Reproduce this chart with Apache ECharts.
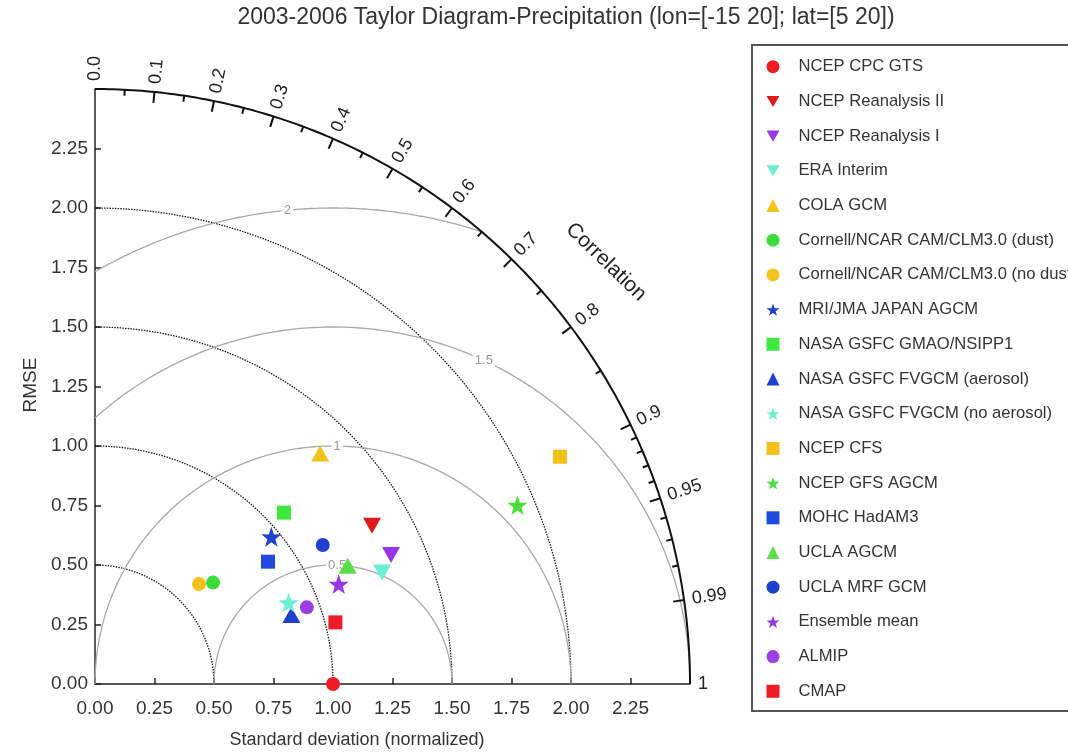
<!DOCTYPE html>
<html lang="en">
<head>
    <meta charset="UTF-8">
    <title>Taylor Diagram - Precipitation</title>
    <script src="https://cdn.jsdelivr.net/npm/echarts@6/dist/echarts.min.js"></script>
    <style>
        html, body { margin: 0; padding: 0; background: #fff; }
        #chart { width: 1068px; height: 753px; }
    </style>
</head>
<body>
    <div id="chart"></div>

    <script>
        // 模型名称 / 颜色 / 形状
        const modelNames = [
            'NCEP CPC GTS', 'NCEP Reanalysis II', 'NCEP Reanalysis I', 'ERA Interim',
            'COLA GCM', 'Cornell/NCAR CAM/CLM3.0 (dust)', 'Cornell/NCAR CAM/CLM3.0 (no dust)',
            'MRI/JMA JAPAN AGCM', 'NASA GSFC GMAO/NSIPP1', 'NASA GSFC FVGCM (aerosol)',
            'NASA GSFC FVGCM (no aerosol)', 'NCEP CFS', 'NCEP GFS AGCM', 'MOHC HadAM3',
            'UCLA AGCM', 'UCLA MRF GCM', 'Ensemble mean', 'ALMIP', 'CMAP'
        ];
        // normalized std * correlation (x) and std * sin(acos(correlation)) (y)
        const sdX = [1.00, 1.164, 1.244, 1.206, 0.946, 0.496, 0.437, 0.741, 0.794, 0.825,
                     0.813, 1.954, 1.775, 0.727, 1.062, 0.957, 1.024, 0.890, 1.010];
        const sdY = [0.00, 0.665, 0.542, 0.468, 0.969, 0.426, 0.420, 0.619, 0.720, 0.290,
                     0.342, 0.955, 0.752, 0.514, 0.497, 0.584, 0.420, 0.322, 0.259];
        const modelShapes = ['circle', 'down', 'down', 'down', 'up', 'circle', 'circle', 'star',
                             'square', 'up', 'star', 'square', 'star', 'square', 'up', 'circle',
                             'star', 'circle', 'square'];
        const modelColors = ['#ee1c24', '#dd1a1e', '#9a35e8', '#6cefd0', '#f2c21a', '#3ddc3d',
                             '#f5c21c', '#1f3fcf', '#3fe83f', '#1f3fcf', '#6cefd0', '#f2c21a',
                             '#4ade3a', '#1f4ae0', '#5ade48', '#1f3fcf', '#9a35e8', '#9a3fe0',
                             '#ee1c24'];

        // 网格圆弧 / 相关系数刻度
        const sdLevels = [0.5, 1.0, 1.5, 2.0];
        const rmsLevels = [0.5, 1.0, 1.5, 2.0];
        const rmsLabels = ['0.5', '1', '1.5', '2'];
        const rmsLabelAngles = [88, 89, 65, 95.5];
        const corrMajor = [0.1, 0.2, 0.3, 0.4, 0.5, 0.6, 0.7, 0.8, 0.9, 0.95, 0.99];
        const corrMinor = [0.05, 0.15, 0.25, 0.35, 0.45, 0.55, 0.65, 0.75, 0.85,
                           0.91, 0.92, 0.93, 0.94, 0.96, 0.97, 0.98];
        const corrLabelValues = [0, 0.1, 0.2, 0.3, 0.4, 0.5, 0.6, 0.7, 0.8, 0.9, 0.95, 0.99, 1];
        const corrLabelTexts = ['0.0', '0.1', '0.2', '0.3', '0.4', '0.5', '0.6', '0.7', '0.8',
                                '0.9', '0.95', '0.99', '1'];
        const sdMax = 2.5;

        const FONT = "'Liberation Sans', Arial, Helvetica, sans-serif";
        const STAR = 'path://M50,0 L61.8,35.1 L97.6,34.5 L69,56.7 L79.4,90.5 L50,70 L20.6,90.5 L31,56.7 L2.4,34.5 L38.2,35.1 Z';
        const DOWN = 'path://M0,0 L20,0 L10,17 Z';

        function arcPoints(cx, r, a0, a1, n) {
            const pts = [];
            for (let i = 0; i <= n; i++) {
                const a = a0 + (a1 - a0) * i / n;
                pts.push([cx + r * Math.cos(a), r * Math.sin(a)]);
            }
            return pts;
        }

        function shapeStyle(shape) {
            if (shape === 'circle') return { symbol: 'circle', symbolSize: 14 };
            if (shape === 'square') return { symbol: 'rect', symbolSize: 14 };
            if (shape === 'up') return { symbol: 'triangle', symbolSize: [18, 16] };
            if (shape === 'down') return { symbol: DOWN, symbolSize: [18, 16] };
            return { symbol: STAR, symbolSize: 20 };
        }

        const series = [];

        // 标准差圆弧 (点线)
        sdLevels.forEach(r => {
            series.push({
                type: 'line', silent: true, clip: false, symbol: 'none', z: 2,
                data: arcPoints(0, r, 0, Math.PI / 2, 120),
                lineStyle: { color: '#1a1a1a', width: 1.3, type: [1.5, 1.2] }
            });
        });

        // RMSE 圆弧 (以参考点为中心)
        rmsLevels.forEach(r => {
            const cMin = (sdMax * sdMax - 1 - r * r) / (2 * r);
            const a0 = cMin >= 1 ? 0 : Math.acos(Math.max(-1, cMin));
            const a1 = r <= 1 ? Math.PI : Math.acos(-1 / r);
            series.push({
                type: 'line', silent: true, clip: false, symbol: 'none', z: 2,
                data: arcPoints(1, r, a0, a1, 160),
                lineStyle: { color: '#a8a8a8', width: 1.3 }
            });
        });

        // 外圆弧
        series.push({
            type: 'line', silent: true, clip: false, symbol: 'none', z: 3,
            data: arcPoints(0, sdMax, 0, Math.PI / 2, 200),
            lineStyle: { color: '#111', width: 2 }
        });

        // RMSE 标签
        series.push({
            type: 'custom', silent: true, clip: false, z: 4,
            data: rmsLevels.map((r, i) => {
                const a = rmsLabelAngles[i] * Math.PI / 180;
                return [1 + r * Math.cos(a), r * Math.sin(a)];
            }),
            encode: { x: 0, y: 1 },
            renderItem: (params, api) => {
                const p = api.coord([api.value(0), api.value(1)]);
                return {
                    type: 'text', x: p[0], y: p[1],
                    style: {
                        text: rmsLabels[params.dataIndex], fill: '#999', fontSize: 13,
                        fontFamily: FONT, align: 'center', verticalAlign: 'middle',
                        backgroundColor: '#fff', padding: [0, 2]
                    }
                };
            }
        });

        // 相关系数刻度
        const tickData = corrMajor.map(c => [sdMax * c, sdMax * Math.sqrt(1 - c * c), c, 1])
            .concat(corrMinor.map(c => [sdMax * c, sdMax * Math.sqrt(1 - c * c), c, 0]));
        series.push({
            type: 'custom', silent: true, clip: false, z: 4,
            data: tickData,
            encode: { x: 0, y: 1 },
            renderItem: (params, api) => {
                const th = Math.acos(api.value(2));
                const len = api.value(3) ? 11 : 6;
                const p = api.coord([api.value(0), api.value(1)]);
                return {
                    type: 'line',
                    shape: { x1: p[0], y1: p[1], x2: p[0] - len * Math.cos(th), y2: p[1] + len * Math.sin(th) },
                    style: { stroke: '#111', lineWidth: 2 }
                };
            }
        });

        // 相关系数标签
        series.push({
            type: 'custom', silent: true, clip: false, z: 4,
            data: corrLabelValues.map(c => [sdMax * c, sdMax * Math.sqrt(1 - c * c), c]),
            encode: { x: 0, y: 1 },
            renderItem: (params, api) => {
                const th = Math.acos(api.value(2));
                const p = api.coord([api.value(0), api.value(1)]);
                return {
                    type: 'text',
                    x: p[0] + 8 * Math.cos(th), y: p[1] - 8 * Math.sin(th),
                    rotation: th,
                    style: {
                        text: corrLabelTexts[params.dataIndex], fill: '#222', fontSize: 18,
                        fontFamily: FONT, align: 'left', verticalAlign: 'middle'
                    }
                };
            }
        });

        // 模型散点
        modelNames.forEach((name, i) => {
            const s = shapeStyle(modelShapes[i]);
            series.push({
                name: name, type: 'scatter', clip: false, z: 10,
                symbol: s.symbol, symbolSize: s.symbolSize,
                itemStyle: { color: modelColors[i], opacity: 1 },
                data: [[sdX[i], sdY[i]]]
            });
        });

        const chart = echarts.init(document.getElementById('chart'));
        chart.setOption({
            animation: false,
            backgroundColor: '#fff',
            textStyle: { fontFamily: FONT },
            grid: { left: 95, top: 89, width: 595, height: 595, containLabel: false },
            xAxis: {
                type: 'value', min: 0, max: sdMax, interval: 0.25,
                splitLine: { show: false },
                axisLine: { onZero: false, lineStyle: { color: '#222', width: 1.5 } },
                axisTick: { inside: true, length: 6, lineStyle: { color: '#222', width: 1.5 } },
                axisLabel: {
                    fontSize: 19, color: '#333', margin: 15, fontFamily: FONT,
                    formatter: v => v < sdMax - 1e-9 ? v.toFixed(2) : ''
                }
            },
            yAxis: {
                type: 'value', min: 0, max: sdMax, interval: 0.25,
                splitLine: { show: false },
                axisLine: { onZero: false, lineStyle: { color: '#222', width: 1.5 } },
                axisTick: { inside: true, length: 6, lineStyle: { color: '#222', width: 1.5 } },
                axisLabel: {
                    fontSize: 19, color: '#333', margin: 7, fontFamily: FONT,
                    formatter: v => v < sdMax - 1e-9 ? v.toFixed(2) : ''
                }
            },
            legend: {
                orient: 'vertical', left: 766.5, top: 58.2, padding: 0,
                itemWidth: 13, itemHeight: 13, itemGap: 17.7,
                data: modelNames,
                selectedMode: false,
                textStyle: { fontSize: 16.6, color: '#333', fontFamily: FONT, lineHeight: 13, padding: [0, 0, 0, 14] }
            },
            graphic: [
                {
                    type: 'rect', z: -1,
                    shape: { x: 752, y: 45, width: 340, height: 666 },
                    style: { fill: '#fff', stroke: '#555', lineWidth: 2 }
                },
                {
                    type: 'text', x: 566, y: 18,
                    style: {
                        text: '2003-2006 Taylor Diagram-Precipitation (lon=[-15 20]; lat=[5 20])',
                        fill: '#333', fontSize: 23, fontFamily: FONT, align: 'center', verticalAlign: 'middle'
                    }
                },
                {
                    type: 'text', x: 357, y: 740,
                    style: {
                        text: 'Standard deviation (normalized)', fill: '#333', fontSize: 18,
                        fontFamily: FONT, align: 'center', verticalAlign: 'middle'
                    }
                },
                {
                    type: 'text', x: 31, y: 385, rotation: Math.PI / 2,
                    style: {
                        text: 'RMSE', fill: '#333', fontSize: 19,
                        fontFamily: FONT, align: 'center', verticalAlign: 'middle'
                    }
                },
                {
                    type: 'text', x: 606, y: 262, rotation: -44 * Math.PI / 180,
                    style: {
                        text: 'Correlation', fill: '#222', fontSize: 21,
                        fontFamily: FONT, align: 'center', verticalAlign: 'middle'
                    }
                }
            ],
            series: series
        });
    </script>
</body>
</html>
